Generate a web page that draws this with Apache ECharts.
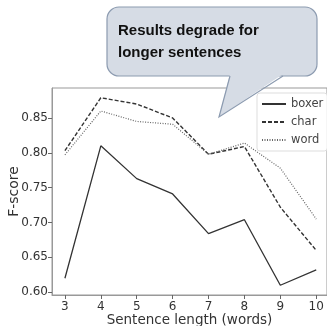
<!DOCTYPE html>
<html>
<head>
<meta charset="utf-8">
<script src="https://cdn.jsdelivr.net/npm/echarts@6/dist/echarts.min.js"></script>
<style>
  html, body { margin: 0; padding: 0; background: #fff; }
  #chart { width: 327px; height: 326px; }
</style>
</head>
<body>
<div id="chart"></div>
<script>
// data
var lengths = [3, 4, 5, 6, 7, 8, 9, 10];
var boxer = [0.620, 0.810, 0.763, 0.741, 0.684, 0.704, 0.610, 0.632];
var charScores = [0.803, 0.879, 0.870, 0.850, 0.798, 0.809, 0.722, 0.660];
var wordScores = [0.797, 0.860, 0.845, 0.841, 0.798, 0.814, 0.778, 0.705];
var yTicks = [0.60, 0.65, 0.70, 0.75, 0.80, 0.85];
var calloutText = 'Results degrade for\nlonger sentences';

function pairs(vals) {
  return lengths.map(function (x, i) { return [x, vals[i]]; });
}

var myChart = echarts.init(document.getElementById('chart'));

var font = 'DejaVu Sans';
var boxFill = '#d6dce5', boxEdge = '#8c9bb0';
var option = {
  animation: false,
  grid: {
    left: 52,
    right: 0,
    top: 88,
    bottom: 31,
    outerBoundsMode: 'none',
    containLabel: false,
    show: true,
    borderColor: '#999',
    borderWidth: 1
  },
  legend: {
    orient: 'vertical',
    left: 257,
    top: 93,
    itemWidth: 24,
    itemHeight: 8,
    itemGap: 6,
    padding: [5, 4, 5, 4],
    borderColor: '#ddd',
    borderWidth: 1,
    borderRadius: 3,
    backgroundColor: '#fff',
    itemStyle: { opacity: 0 },
    textStyle: { fontFamily: font, fontSize: 11.5, color: '#444' },
    data: ['boxer', 'char', 'word']
  },
  xAxis: {
    type: 'value',
    min: 2.64,
    max: 10.3,
    name: 'Sentence length (words)',
    nameLocation: 'middle',
    nameGap: 18,
    nameMoveOverlap: false,
    nameTextStyle: { fontFamily: font, fontSize: 13.5, color: '#333' },
    axisLine: { lineStyle: { color: '#999' } },
    axisTick: { show: true, length: 4, lineStyle: { color: '#666' }, customValues: lengths },
    axisLabel: { fontFamily: font, fontSize: 12, color: '#333', margin: 6, customValues: lengths },
    splitLine: { show: false }
  },
  yAxis: {
    type: 'value',
    min: 0.596,
    max: 0.893,
    name: 'F-score',
    nameLocation: 'middle',
    nameGap: 31,
    nameMoveOverlap: false,
    nameTextStyle: { fontFamily: font, fontSize: 14, color: '#333' },
    axisLine: { show: true, lineStyle: { color: '#999' } },
    axisTick: { show: true, length: 4, lineStyle: { color: '#666' }, customValues: yTicks },
    axisLabel: {
      fontFamily: font, fontSize: 12, color: '#333', margin: 4,
      customValues: yTicks,
      formatter: function (v) { return v.toFixed(2); }
    },
    splitLine: { show: false }
  },
  series: [
    {
      name: 'boxer',
      type: 'line',
      symbol: 'none',
      data: pairs(boxer),
      lineStyle: { color: '#333', width: 1.3, type: 'solid' },
      itemStyle: { color: '#333' }
    },
    {
      name: 'char',
      type: 'line',
      symbol: 'none',
      data: pairs(charScores),
      lineStyle: { color: '#333', width: 1.4, type: [4, 2] },
      itemStyle: { color: '#333' }
    },
    {
      name: 'word',
      type: 'line',
      symbol: 'none',
      data: pairs(wordScores),
      lineStyle: { color: '#666', width: 1.2, type: [1, 1.5] },
      itemStyle: { color: '#666' }
    }
  ],
  graphic: [
    {
      // callout box
      type: 'rect',
      z: 100,
      shape: { x: 107, y: 7, width: 210, height: 69, r: 12 },
      style: { fill: boxFill, stroke: boxEdge, lineWidth: 1.2 }
    },
    {
      // tail fill, covers the box edge where it joins
      type: 'polygon',
      z: 101,
      shape: { points: [[230, 74], [219, 117], [283, 74]] },
      style: { fill: boxFill }
    },
    {
      type: 'polyline',
      z: 102,
      shape: { points: [[230, 76], [219, 117], [283, 76]] },
      style: { fill: null, stroke: boxEdge, lineWidth: 1.2 }
    },
    {
      type: 'text',
      z: 103,
      left: 118,
      top: 20,
      style: {
        text: calloutText,
        fontFamily: 'Liberation Sans',
        fontSize: 15,
        fontWeight: 'bold',
        lineHeight: 22,
        fill: '#111'
      }
    }
  ]
};

myChart.setOption(option);
</script>
</body>
</html>
